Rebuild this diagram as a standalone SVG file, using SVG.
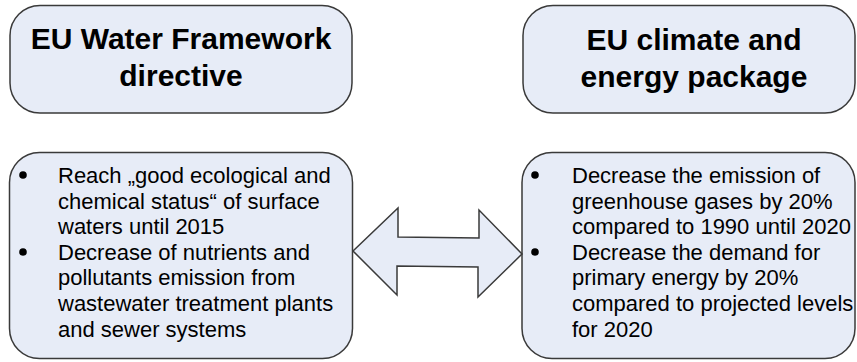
<svg xmlns="http://www.w3.org/2000/svg" width="857" height="362" viewBox="0 0 857 362">
<style>
.box{fill:#E7ECF7;stroke:#3a3a3a;stroke-width:1.5}
.title{font-family:"Liberation Sans",Arial,sans-serif;font-weight:bold;font-size:30px;fill:#000;text-anchor:middle}
.body{font-family:"Liberation Sans",Arial,sans-serif;font-size:22px;fill:#000}
.dot{fill:#000}
</style>
<rect width="857" height="362" fill="#fff"/>
<g id="wfd-title">
<rect class="box" x="10" y="5.5" width="342" height="107.5" rx="30" ry="30"/>
<text class="title" x="181" y="49">EU Water Framework</text>
<text class="title" x="181" y="86">directive</text>
</g>
<g id="cep-title">
<rect class="box" x="523" y="5.5" width="332" height="107.5" rx="30" ry="30"/>
<text class="title" x="694" y="50">EU climate and</text>
<text class="title" x="694" y="87">energy package</text>
</g>
<g id="wfd-goals">
<rect class="box" x="9.5" y="152.5" width="343" height="206" rx="30" ry="30"/>
<circle class="dot" cx="23" cy="175" r="3.8"/>
<circle class="dot" cx="23" cy="252" r="3.8"/>
<text class="body" x="58" y="183">Reach „good ecological and</text>
<text class="body" x="58" y="208.6">chemical status“ of surface</text>
<text class="body" x="58" y="234.2">waters until 2015</text>
<text class="body" x="58" y="259.8">Decrease of nutrients and</text>
<text class="body" x="58" y="285.4">pollutants emission from</text>
<text class="body" x="58" y="311">wastewater treatment plants</text>
<text class="body" x="58" y="336.6">and sewer systems</text>
</g>
<g id="cep-goals">
<rect class="box" x="522" y="152.5" width="333" height="206" rx="30" ry="30"/>
<circle class="dot" cx="535" cy="175" r="3.8"/>
<circle class="dot" cx="535" cy="252" r="3.8"/>
<text class="body" x="572" y="183">Decrease the emission of</text>
<text class="body" x="572" y="208.6">greenhouse gases by 20%</text>
<text class="body" x="572" y="234.2">compared to 1990 until 2020</text>
<text class="body" x="572" y="259.8">Decrease the demand for</text>
<text class="body" x="572" y="285.4">primary energy by 20%</text>
<text class="body" x="572" y="311">compared to projected levels</text>
<text class="body" x="572" y="336.6">for 2020</text>
</g>
<g id="connectors">
<polygon class="box" points="353,251 398,208 398,237 479,238 479,210 522,254 478,297 478,267 397,266 397,295"/>
</g>
</svg>
